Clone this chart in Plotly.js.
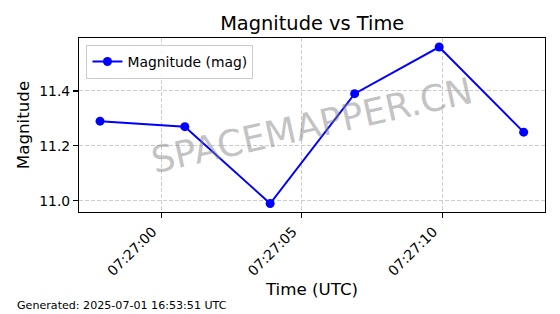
<!DOCTYPE html>
<html>
<head>
<meta charset="utf-8">
<script src="https://cdn.plot.ly/plotly-3.0.1.min.js"></script>
<style>
html,body{margin:0;padding:0;background:#fff;}
#chart{width:560px;height:314px;}
</style>
</head>
<body>
<div id="chart"></div>
<script>
// Data
const times = [
  '2025-07-01 07:26:57.81',
  '2025-07-01 07:27:00.83',
  '2025-07-01 07:27:03.87',
  '2025-07-01 07:27:06.88',
  '2025-07-01 07:27:09.89',
  '2025-07-01 07:27:12.90'
];
const magnitudes = [11.29, 11.27, 10.99, 11.39, 11.56, 11.25];
const seriesName = 'Magnitude (mag)';
const chartTitle = 'Magnitude vs Time';
const xLabel = 'Time (UTC)';
const yLabel = 'Magnitude';
const watermark = 'SPACEMAPPER.CN';
const footer = 'Generated: 2025-07-01 16:53:51 UTC';

const FONT = 'DejaVu Sans, sans-serif';
const gridColor = '#cccccc';

const trace = {
  x: times,
  y: magnitudes,
  type: 'scatter',
  mode: 'lines+markers',
  name: seriesName,
  line: {color: '#0000ff', width: 2},
  marker: {color: '#0000ff', size: 9}
};

const layout = {
  width: 560,
  height: 314,
  margin: {l: 79.3, r: 15, t: 38, b: 101.7, pad: 0},
  paper_bgcolor: '#ffffff',
  plot_bgcolor: '#ffffff',
  font: {family: FONT, color: '#000000', size: 13.9},
  showlegend: true,
  hovermode: false,
  title: {
    text: chartTitle,
    font: {family: FONT, size: 19.4, color: '#000'},
    x: 312.2 / 560,
    xanchor: 'center',
    xref: 'container',
    yref: 'container',
    y: 1 - 23.5 / 314,
    yanchor: 'middle'
  },
  xaxis: {
    type: 'date',
    range: ['2025-07-01 07:26:57.06', '2025-07-01 07:27:13.66'],
    tick0: '2025-07-01 07:27:00',
    dtick: 5000,
    tickformat: '%H:%M:%S',
    tickangle: -45,
    ticklabelshift: -9,
    ticks: 'outside',
    ticklen: 4.9,
    tickwidth: 1.1,
    tickcolor: '#000',
    tickfont: {family: FONT, size: 13.9, color: '#000'},
    showline: true,
    linecolor: '#000',
    linewidth: 1.1,
    mirror: true,
    showgrid: true,
    gridcolor: gridColor,
    gridwidth: 1,
    griddash: '4px,2px',
    zeroline: false,
    automargin: false,
    title: {text: xLabel, font: {family: FONT, size: 16.7, color: '#000'}, standoff: 5}
  },
  yaxis: {
    range: [10.9592, 11.5928],
    tick0: 11.0,
    dtick: 0.2,
    tickformat: '.1f',
    ticks: 'outside',
    ticklen: 4.9,
    tickwidth: 1.1,
    tickcolor: '#000',
    tickfont: {family: FONT, size: 13.9, color: '#000'},
    showline: true,
    linecolor: '#000',
    linewidth: 1.1,
    mirror: true,
    showgrid: true,
    gridcolor: gridColor,
    gridwidth: 1,
    griddash: '4px,2px',
    zeroline: false,
    automargin: false,
    title: {text: yLabel, font: {family: FONT, size: 16.7, color: '#000'}, standoff: 5}
  },
  legend: {
    x: 0.016,
    y: 0.96,
    xanchor: 'left',
    yanchor: 'top',
    bgcolor: 'rgba(255,255,255,0.8)',
    bordercolor: '#cccccc',
    borderwidth: 1,
    font: {family: FONT, size: 13.9, color: '#000'},
    itemwidth: 30
  },
  annotations: [
    {
      text: watermark,
      xref: 'paper', yref: 'paper',
      x: 0.5, y: 0.5,
      xanchor: 'center', yanchor: 'middle',
      showarrow: false,
      textangle: -12.5,
      font: {family: FONT, size: 36.5, color: 'rgba(128,128,128,0.47)'}
    },
    {
      text: footer,
      xref: 'paper', yref: 'paper',
      x: (15.5 - 79.3) / 465.7,
      y: -(314.5 - 212.3) / 174.3,
      xanchor: 'left', yanchor: 'bottom',
      showarrow: false,
      font: {family: FONT, size: 11.1, color: '#000'}
    }
  ]
};

Plotly.newPlot('chart', [trace], layout, {displayModeBar: false, staticPlot: true});
</script>
</body>
</html>
